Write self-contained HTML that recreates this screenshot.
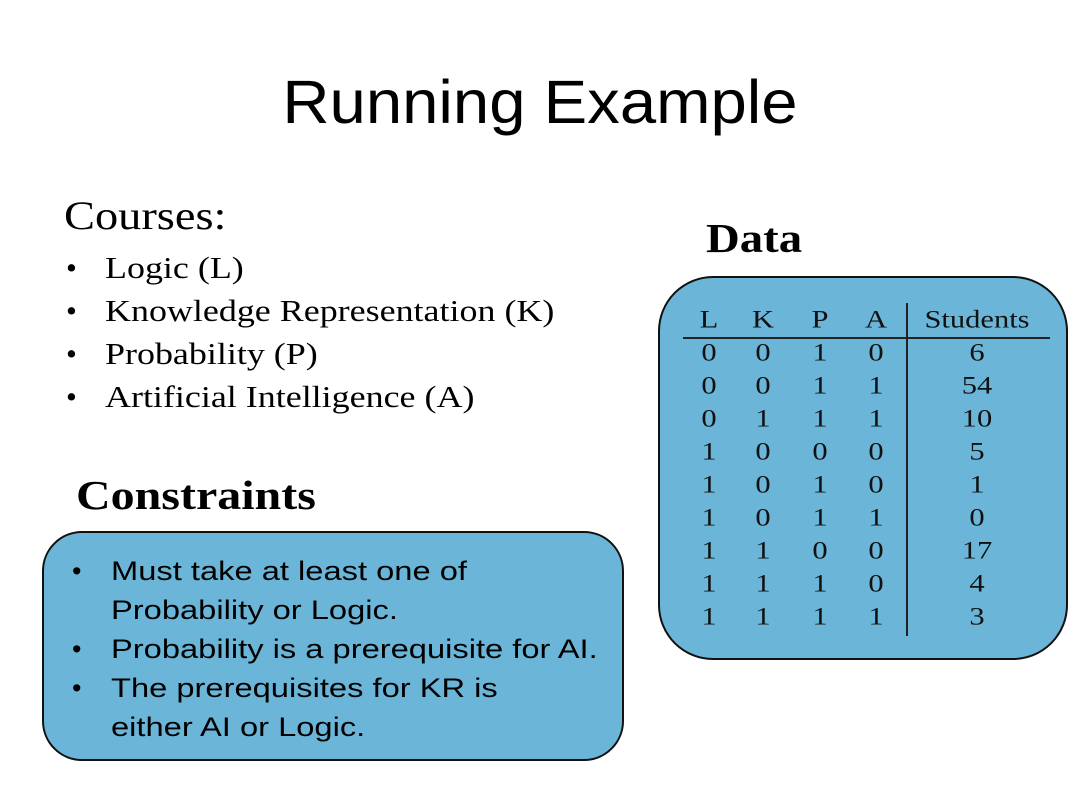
<!DOCTYPE html>
<html><head><style>
body{margin:0;width:1080px;height:810px;background:#fff;position:relative;overflow:hidden}
.a{position:absolute;white-space:nowrap;line-height:1;transform-origin:0 0}
.s{font-family:"Liberation Sans",sans-serif}
.r{font-family:"Liberation Serif",serif}
.x{transform:scaleX(1.16)}
.box{position:absolute;background:#6bb6d8;border:2px solid #111;box-sizing:border-box}
.c{position:absolute;font-family:"Liberation Serif",serif;font-size:25px;line-height:1;transform:translate(-50%,-50%) scaleX(1.22);color:#111}
</style></head><body>
<div class="a s" style="left:0;width:1080px;text-align:center;top:72px;font-size:61px;transform:scaleX(1.07);transform-origin:540px 0">Running Example</div>
<div class="a r x" style="left:64px;top:196px;font-size:40px">Courses:</div>
<div class="a r" style="left:66px;top:252px;font-size:31px">•</div><div class="a r x" style="left:105px;top:252px;font-size:31px">Logic (L)</div>
<div class="a r" style="left:66px;top:295px;font-size:31px">•</div><div class="a r x" style="left:105px;top:295px;font-size:31px">Knowledge Representation (K)</div>
<div class="a r" style="left:66px;top:338px;font-size:31px">•</div><div class="a r x" style="left:105px;top:338px;font-size:31px">Probability (P)</div>
<div class="a r" style="left:66px;top:381px;font-size:31px">•</div><div class="a r x" style="left:105px;top:381px;font-size:31px">Artificial Intelligence (A)</div>
<div class="a r" style="left:706px;top:218px;font-size:41px;font-weight:bold;transform:scaleX(1.14)">Data</div>
<div class="a r" style="left:76px;top:475px;font-size:41px;font-weight:bold;transform:scaleX(1.17)">Constraints</div>
<div class="box" style="left:42px;top:531px;width:582px;height:230px;border-radius:40px"></div>
<div class="a s" style="left:72px;top:552px;font-size:27px;line-height:39px">•<br><br>•<br>•</div>
<div class="a s" style="left:111px;top:552px;font-size:27px;line-height:39px;transform:scaleX(1.21)">Must take at least one of<br>Probability or Logic.<br>Probability is a prerequisite for AI.<br>The prerequisites for KR is<br>either AI or Logic.</div>
<div class="box" style="left:658px;top:276px;width:410px;height:384px;border-radius:55px"></div>
<div style="position:absolute;left:906px;top:303px;width:2px;height:333px;background:#222"></div>
<div style="position:absolute;left:683px;top:337px;width:367px;height:2px;background:#222"></div>
<div id="t"></div>
<script>
var rows=[["L","K","P","A","Students"],["0","0","1","0","6"],["0","0","1","1","54"],["0","1","1","1","10"],["1","0","0","0","5"],["1","0","1","0","1"],["1","0","1","1","0"],["1","1","0","0","17"],["1","1","1","0","4"],["1","1","1","1","3"]];
var xs=[709,763,820,876,977],h="";
rows.forEach(function(r,i){var y=i==0?320:353+(i-1)*33;r.forEach(function(v,j){h+='<div class="c" style="left:'+xs[j]+'px;top:'+y+'px">'+v+'</div>';});});
document.getElementById('t').innerHTML=h;
</script>
</body></html>
